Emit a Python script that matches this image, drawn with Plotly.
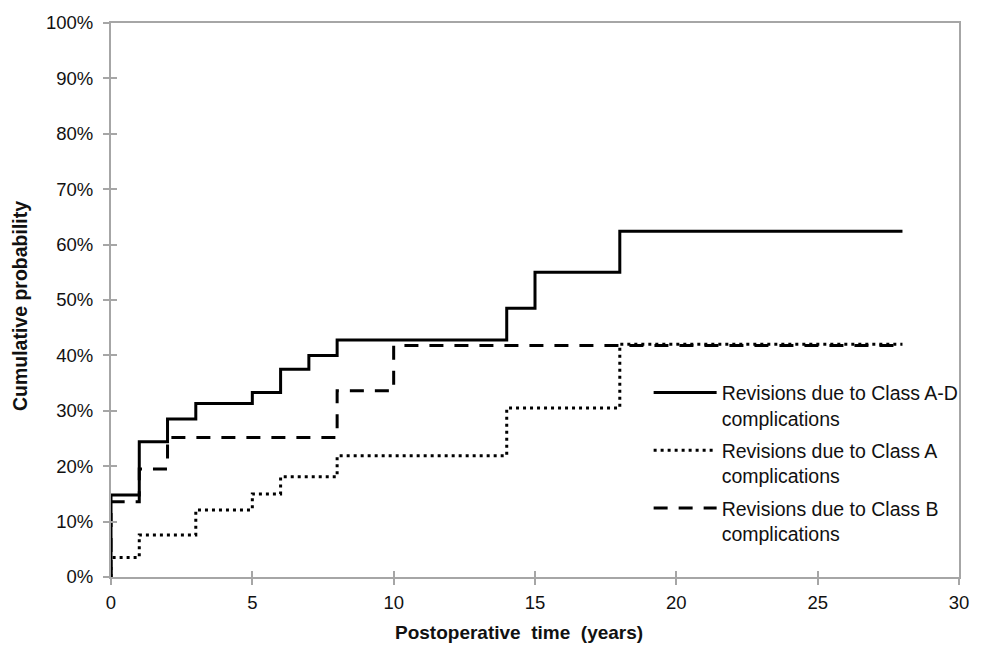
import plotly.graph_objects as go

# Data (years, cumulative probability %)
ad_x = [0, 0, 1, 2, 3, 5, 6, 7, 8, 14, 15, 18, 28]
ad_y = [0, 14.8, 24.4, 28.5, 31.3, 33.3, 37.5, 40.0, 42.8, 48.5, 55.0, 62.4, 62.4]

a_x = [0, 0, 1, 3, 5, 6, 8, 14, 18, 28]
a_y = [0, 3.5, 7.6, 12.1, 15.0, 18.1, 21.9, 30.5, 42.0, 42.0]

b_x = [0, 0, 1, 2, 8, 10, 28]
b_y = [0, 13.6, 19.5, 25.2, 33.6, 41.8, 41.8]

names = ["Revisions due to Class A-D<br>complications",
         "Revisions due to Class A<br>complications",
         "Revisions due to Class B<br>complications"]

x_ticks = [0, 5, 10, 15, 20, 25, 30]
y_ticks = [0, 10, 20, 30, 40, 50, 60, 70, 80, 90, 100]
y_labels = [f"{v}%" for v in y_ticks]

FONT = "Liberation Sans, Arial, sans-serif"
GRAY = "#a6a6a6"

fig = go.Figure()
fig.add_trace(go.Scatter(x=ad_x, y=ad_y, mode="lines", line_shape="hv", legendgroup="ad",
                         line=dict(color="black", width=3), name=names[0]))
fig.add_trace(go.Scatter(x=a_x, y=a_y, mode="lines", line_shape="hv", legendgroup="a",
                         line=dict(color="black", width=3, dash="3px,4px"), name=names[1]))
fig.add_trace(go.Scatter(x=b_x, y=b_y, mode="lines", line_shape="hv", legendgroup="b",
                         line=dict(color="black", width=3, dash="14px,11px"), name=names[2]))

fig.update_layout(
    width=984, height=648,
    margin=dict(l=111, r=25, t=15, b=71),
    paper_bgcolor="white", plot_bgcolor="white",
    font=dict(family=FONT, size=18, color="#111"),
    showlegend=True,
    legend=dict(x=0.634, y=0.3675, xanchor="left", yanchor="top",
                font=dict(size=19.5, color="#111"), bgcolor="rgba(0,0,0,0)",
                valign="top", itemwidth=63, tracegroupgap=4),
    xaxis=dict(range=[0, 30], tickvals=x_ticks, ticktext=[str(v) for v in x_ticks],
               showgrid=False, zeroline=False, showline=True, linecolor=GRAY, linewidth=2,
               mirror=True, ticks="outside", ticklen=6, tickcolor=GRAY, tickwidth=1.5,
               ticklabelstandoff=2,
               tickfont=dict(size=18.5, color="#111")),
    yaxis=dict(range=[0, 100], tickvals=y_ticks, ticktext=y_labels,
               showgrid=False, zeroline=False, showline=True, linecolor=GRAY, linewidth=2,
               mirror=True, ticks="outside", ticklen=6, tickcolor=GRAY, tickwidth=1.5,
               ticklabelstandoff=6,
               tickfont=dict(size=18.5, color="#111")),
    xaxis2=dict(range=[0, 30], tickvals=x_ticks, overlaying="x", side="bottom",
                showticklabels=False, showgrid=False, zeroline=False, showline=False,
                ticks="inside", ticklen=6, tickcolor=GRAY, tickwidth=1.5),
    yaxis2=dict(range=[0, 100], tickvals=y_ticks, overlaying="y", side="left",
                showticklabels=False, showgrid=False, zeroline=False, showline=False,
                ticks="inside", ticklen=6, tickcolor=GRAY, tickwidth=1.5),
    annotations=[
        dict(text="<b>Postoperative  time  (years)</b>", xref="paper", yref="paper",
             x=0.481, y=0, xanchor="center", yanchor="middle", yshift=-55,
             showarrow=False, font=dict(size=19, color="#111")),
        dict(text="<b>Cumulative probability</b>", xref="paper", yref="paper",
             x=0, y=0.489, xanchor="center", yanchor="middle", xshift=-91,
             textangle=-90, showarrow=False, font=dict(size=19.5, color="#111")),
    ],
)
fig.add_trace(go.Scatter(x=[None], y=[None], xaxis="x2", yaxis="y2", showlegend=False,
                         hoverinfo="skip"))

fig.write_html("out.html", config={"displayModeBar": False},
               post_script="document.body.style.margin='0';")
